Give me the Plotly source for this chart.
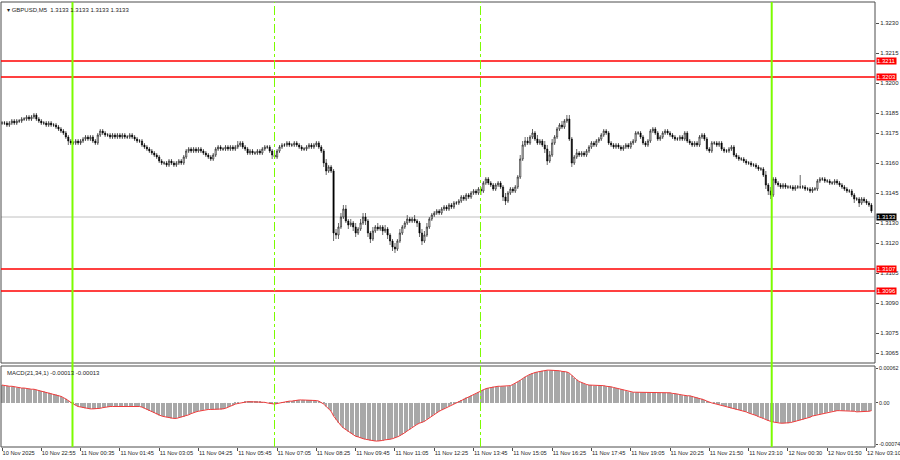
import plotly.graph_objects as go
from plotly.subplots import make_subplots

# --- data -----------------------------------------------------------------
BASE = 1.3
PIP = 0.0001

# M5 closes, in pips above 1.3000
first_open = 180
closes = [
    180, 180, 179, 180, 181, 180, 181, 181, 182, 182,
    183, 182, 183, 184, 182, 181, 180, 180, 179, 180,
    179, 179, 178, 177, 176, 175, 173, 171, 170, 170,
    171, 170, 171, 172, 173, 172, 173, 171, 170, 174,
    176, 175, 174, 174, 173, 174, 173, 174, 173, 174,
    173, 173, 174, 173, 172, 171, 171, 169, 168, 167,
    166, 165, 164, 163, 161, 160, 160, 159, 161, 160,
    159, 160, 161, 160, 163, 166, 167, 166, 167, 166,
    167, 166, 165, 164, 163, 162, 164, 167, 168, 167,
    167, 168, 167, 168, 167, 168, 169, 170, 168, 167,
    165, 166, 165, 165, 166, 165, 167, 168, 168, 166,
    164, 163, 166, 168, 169, 169, 170, 169, 169, 170,
    169, 168, 167, 167, 168, 169, 168, 169, 170, 168,
    166, 160, 156, 158, 156, 125, 124, 128, 133, 137,
    131, 129, 130, 128, 125, 127, 130, 133, 131, 125,
    122, 126, 128, 127, 128, 126, 127, 124, 121, 118,
    117, 121, 125, 128, 130, 132, 131, 132, 131, 130,
    125, 121, 124, 128, 132, 134, 135, 136, 135, 137,
    138, 137, 139, 138, 140, 140, 141, 143, 142, 144,
    143, 145, 146, 145, 147, 146, 150, 152, 150, 149,
    147, 149, 150, 148, 143, 141, 145, 147, 146, 148,
    153, 162, 169, 171, 170, 173, 175, 172, 170, 171,
    169, 167, 161, 164, 170, 173, 177, 179, 178, 181,
    182, 172, 160, 163, 165, 164, 165, 164, 166, 168,
    170, 169, 171, 172, 174, 176, 175, 170, 169, 168,
    169, 168, 167, 168, 169, 168, 170, 171, 175, 175,
    173, 170, 169, 171, 176, 177, 175, 172, 173, 175,
    176, 175, 174, 173, 172, 172, 173, 172, 175, 171,
    170, 169, 170, 169, 173, 174, 172, 167, 166, 170,
    170, 169, 170, 167, 166, 166, 167, 168, 164, 163,
    162, 162, 161, 160, 160, 159, 159, 158, 157, 157,
    154, 149, 146, 144, 152, 150, 149, 148, 149, 148,
    148, 148, 147, 148, 148, 148, 148, 147, 147, 146,
    147, 147, 151, 152, 152, 151, 151, 150, 150, 151,
    150, 149, 148, 147, 146, 146, 144, 142, 142, 140,
    142, 141, 140, 139, 136,
]

# wick length beyond the body, pips
upper_wick = [
    1, 1, 1, 1, 1, 1, 1, 1, 1, 1,
    1, 1, 1, 1, 1, 1, 1, 1, 1, 1,
    1, 1, 1, 1, 1, 1, 1, 1, 1, 1,
    1, 1, 1, 1, 1, 1, 1, 1, 1, 1,
    1, 1, 1, 1, 1, 1, 1, 1, 1, 1,
    1, 1, 1, 1, 1, 1, 1, 1, 1, 1,
    1, 1, 1, 1, 1, 1, 1, 1, 1, 1,
    1, 1, 1, 1, 1, 1, 1, 1, 1, 1,
    1, 1, 1, 1, 1, 1, 1, 1, 1, 1,
    1, 1, 1, 1, 1, 1, 2, 1, 1, 1,
    1, 1, 1, 1, 1, 1, 1, 1, 1, 1,
    1, 1, 1, 1, 1, 1, 1, 1, 1, 1,
    1, 1, 1, 1, 1, 1, 1, 1, 1, 1,
    1, 1, 2, 1, 1, 1, 2, 2, 2, 2,
    2, 1, 2, 1, 2, 1, 2, 2, 2, 1,
    1, 2, 1, 2, 1, 1, 2, 1, 1, 1,
    2, 1, 2, 1, 1, 2, 1, 1, 2, 1,
    1, 2, 2, 2, 1, 1, 1, 1, 1, 1,
    1, 1, 1, 1, 1, 1, 1, 1, 1, 1,
    1, 1, 1, 1, 1, 1, 1, 1, 1, 1,
    1, 1, 1, 1, 1, 2, 1, 1, 1, 1,
    1, 2, 2, 2, 2, 1, 2, 1, 2, 1,
    1, 2, 2, 2, 2, 1, 1, 1, 2, 1,
    2, 2, 1, 1, 2, 1, 1, 1, 1, 1,
    1, 1, 1, 1, 1, 1, 1, 1, 1, 1,
    1, 1, 1, 1, 1, 1, 1, 1, 1, 1,
    1, 1, 1, 1, 1, 1, 1, 1, 1, 1,
    1, 1, 1, 1, 1, 1, 1, 1, 1, 1,
    1, 1, 1, 1, 1, 1, 1, 1, 1, 1,
    1, 1, 1, 1, 1, 1, 1, 1, 1, 1,
    1, 1, 1, 1, 1, 1, 1, 1, 1, 1,
    1, 2, 1, 2, 1, 1, 1, 1, 1, 1,
    1, 1, 1, 1, 1, 6, 1, 1, 1, 1,
    1, 1, 1, 1, 1, 1, 1, 1, 1, 1,
    1, 1, 1, 1, 1, 1, 1, 1, 1, 1,
    1, 1, 1, 1, 1,
]
lower_wick = [
    1, 1, 1, 1, 1, 1, 1, 1, 1, 1,
    1, 1, 1, 1, 1, 1, 1, 1, 1, 1,
    1, 1, 1, 1, 1, 1, 1, 2, 1, 1,
    1, 1, 1, 1, 1, 1, 1, 1, 1, 1,
    1, 1, 1, 1, 1, 1, 1, 1, 1, 1,
    1, 1, 1, 1, 1, 1, 1, 1, 1, 1,
    1, 1, 1, 1, 1, 1, 1, 1, 1, 1,
    1, 1, 1, 1, 1, 1, 1, 1, 1, 1,
    1, 1, 1, 1, 1, 1, 1, 1, 1, 1,
    1, 1, 1, 1, 1, 1, 1, 1, 1, 1,
    1, 1, 1, 1, 1, 1, 1, 1, 1, 1,
    2, 1, 1, 1, 1, 1, 1, 1, 1, 1,
    1, 1, 1, 1, 1, 1, 1, 1, 1, 1,
    1, 2, 2, 1, 1, 4, 2, 2, 1, 1,
    1, 2, 1, 2, 2, 1, 1, 1, 2, 2,
    2, 1, 1, 1, 1, 2, 1, 2, 2, 2,
    2, 1, 1, 1, 1, 1, 1, 1, 1, 2,
    2, 2, 1, 1, 1, 1, 1, 1, 1, 1,
    1, 1, 1, 1, 1, 1, 1, 1, 1, 1,
    1, 1, 1, 1, 1, 2, 1, 1, 1, 1,
    1, 1, 1, 1, 2, 2, 1, 1, 1, 1,
    1, 1, 1, 1, 1, 1, 1, 1, 1, 1,
    1, 2, 2, 1, 1, 1, 1, 1, 1, 1,
    1, 1, 2, 1, 1, 1, 1, 1, 1, 1,
    1, 1, 1, 1, 1, 1, 1, 1, 1, 1,
    1, 1, 1, 1, 1, 1, 1, 1, 1, 1,
    1, 1, 1, 1, 1, 1, 1, 1, 1, 1,
    1, 1, 1, 1, 1, 1, 1, 1, 1, 1,
    1, 1, 1, 1, 1, 1, 1, 1, 1, 1,
    1, 1, 1, 1, 1, 1, 1, 1, 1, 1,
    1, 1, 1, 1, 1, 1, 1, 1, 1, 1,
    1, 2, 2, 2, 1, 1, 1, 1, 1, 1,
    1, 1, 1, 1, 1, 1, 1, 1, 1, 1,
    1, 1, 1, 1, 1, 1, 1, 1, 1, 1,
    1, 1, 1, 1, 1, 1, 1, 2, 1, 2,
    1, 1, 1, 1, 1,
]

# MACD(21,34,1), units of 1e-5
macd = [
    30, 29, 29, 28, 28, 27, 26, 26, 25, 25,
    24, 24, 23, 23, 22, 21, 20, 19, 18, 17,
    16, 15, 14, 13, 11, 9, 7, 4, 1, -2,
    -4, -6, -7, -8, -9, -9, -10, -10, -10, -10,
    -9, -8, -7, -7, -6, -6, -6, -5, -5, -5,
    -5, -5, -5, -5, -5, -6, -6, -7, -9, -11,
    -13, -15, -17, -19, -21, -22, -23, -24, -25, -26,
    -26, -26, -25, -24, -23, -21, -20, -18, -16, -15,
    -14, -13, -12, -11, -11, -11, -11, -11, -11, -11,
    -10, -9, -7, -5, -4, -2, -1, 0, 1, 2,
    2, 2, 2, 2, 2, 2, 1, 1, 0, -1,
    -2, -2, -1, 0, 1, 1, 2, 3, 3, 4,
    5, 5, 5, 5, 5, 5, 5, 4, 4, 3,
    1, -2, -6, -10, -14, -22, -28, -33, -38, -42,
    -45, -48, -51, -53, -56, -57, -59, -60, -61, -62,
    -63, -64, -64, -64, -64, -63, -62, -62, -61, -60,
    -59, -57, -55, -53, -50, -47, -44, -41, -38, -36,
    -34, -33, -31, -28, -25, -22, -19, -17, -14, -12,
    -10, -8, -5, -3, -1, 1, 3, 5, 7, 9,
    10, 12, 14, 16, 18, 20, 22, 24, 25, 26,
    27, 27, 28, 28, 28, 28, 28, 29, 31, 33,
    35, 38, 41, 44, 46, 48, 50, 51, 52, 53,
    54, 54, 55, 55, 55, 55, 54, 54, 53, 53,
    52, 50, 46, 42, 39, 36, 34, 32, 31, 30,
    30, 29, 29, 29, 29, 29, 28, 28, 27, 26,
    25, 24, 23, 22, 20, 19, 18, 18, 18, 18,
    18, 18, 18, 18, 18, 18, 18, 17, 17, 17,
    17, 17, 17, 16, 16, 15, 14, 13, 13, 12,
    12, 11, 10, 9, 8, 7, 5, 3, 1, 0,
    -1, -2, -3, -4, -5, -6, -8, -9, -10, -11,
    -12, -13, -14, -15, -17, -18, -20, -21, -23, -24,
    -26, -28, -30, -31, -32, -33, -33, -34, -34, -34,
    -34, -33, -32, -31, -30, -29, -28, -27, -25, -24,
    -22, -21, -20, -19, -18, -17, -16, -15, -14, -14,
    -13, -13, -13, -13, -13, -13, -14, -14, -15, -15,
    -15, -15, -14, -14, -13,
]

time_labels = ["10 Nov 2025", "10 Nov 22:55", "11 Nov 00:35", "11 Nov 01:45", "11 Nov 03:05",
               "11 Nov 04:25", "11 Nov 05:45", "11 Nov 07:05", "11 Nov 08:25", "11 Nov 09:45",
               "11 Nov 11:05", "11 Nov 12:25", "11 Nov 13:45", "11 Nov 15:05", "11 Nov 16:25",
               "11 Nov 17:45", "11 Nov 19:05", "11 Nov 20:25", "11 Nov 21:50", "11 Nov 23:10",
               "12 Nov 00:30", "12 Nov 01:50", "12 Nov 03:10"]
price_ticks = [1.3230, 1.3215, 1.3200, 1.3185, 1.3175, 1.3160, 1.3145,
               1.3130, 1.3120, 1.3105, 1.3090, 1.3075, 1.3065]
levels = [1.3211, 1.3203, 1.3107, 1.3096]
bid = 1.3133
day_breaks = [28.7, 313.4]      # bar positions of the day separators
session_marks = [110.95, 194.82]

# --- build ------------------------------------------------------------------
FONT = "Liberation Sans"
TXT = "#1e1e1e"
FS = 6
n = len(closes)
bars = list(range(n))
opens = [first_open] + closes[:-1]
o = [BASE + v * PIP for v in opens]
c = [BASE + v * PIP for v in closes]
h = [BASE + (max(a, b) + u) * PIP for a, b, u in zip(opens, closes, upper_wick)]
l = [BASE + (min(a, b) - d) * PIP for a, b, d in zip(opens, closes, lower_wick)]
macd_v = [v * 1e-5 for v in macd]

fig = make_subplots(rows=2, cols=1, shared_xaxes=True)

fig.add_trace(go.Candlestick(
    x=bars, open=o, high=h, low=l, close=c,
    increasing=dict(line=dict(color="#000000", width=0.6), fillcolor="#ffffff"),
    decreasing=dict(line=dict(color="#000000", width=0.6), fillcolor="#000000"),
    whiskerwidth=0, showlegend=False, hoverinfo="skip"), row=1, col=1)

fig.add_trace(go.Bar(x=bars, y=macd_v, width=0.45, marker=dict(color="#a8a8a8", line=dict(width=0)),
                     showlegend=False, hoverinfo="skip"), row=2, col=1)
fig.add_trace(go.Scatter(x=bars, y=macd_v, mode="lines", line=dict(color="#f03c3c", width=1),
                         showlegend=False, hoverinfo="skip"), row=2, col=1)

main_dom = [84 / 445, 1]
macd_dom = [0, 81 / 445]
xr = [-0.407, 355.45]
tickfont = dict(family=FONT, size=FS, color=TXT)

fig.update_layout(
    width=900, height=460,
    margin=dict(l=1, r=25, t=2, b=13, autoexpand=False),
    paper_bgcolor="white", plot_bgcolor="white",
    showlegend=False,
    xaxis=dict(range=xr, rangeslider=dict(visible=False), showgrid=False, zeroline=False,
               showticklabels=False, ticks="", automargin=False),
    xaxis2=dict(range=xr, showgrid=False, zeroline=False, ticks="outside", ticklen=3,
                tickcolor="#4d4d4d", tickvals=[16 * i for i in range(len(time_labels))],
                ticktext=time_labels, tickfont=dict(family=FONT, size=5.7, color=TXT),
                ticklabelposition="outside right",
                ticklabeloverflow="allow", tickangle=0, ticklabelstandoff=0, automargin=False),
    yaxis=dict(domain=main_dom, range=[1.3060, 1.32405], side="right", showgrid=False,
               zeroline=False, ticks="outside", ticklen=3, tickcolor="#4d4d4d", automargin=False,
               tickvals=price_ticks, ticktext=[f"{p:.4f}" for p in price_ticks], tickfont=tickfont),
    yaxis2=dict(domain=macd_dom, range=[-0.00074, 0.00062], side="right", showgrid=False,
                zeroline=False, ticks="outside", ticklen=2, tickcolor="#4d4d4d", automargin=False,
                tickvals=[0.00058, 0, -0.00069], ticktext=["0.00062", "0.00", "-0.00074"],
                ticklabeloverflow="allow", tickfont=dict(family=FONT, size=5.4, color=TXT)),
)

# panel frames
for dom in (main_dom, macd_dom):
    fig.add_shape(type="rect", xref="paper", yref="paper", x0=0, x1=1, y0=dom[0], y1=dom[1],
                  line=dict(color="#4d4d4d", width=1), layer="above")

# current price line
fig.add_shape(type="line", xref="paper", yref="y", x0=0, x1=1, y0=bid, y1=bid,
              line=dict(color="#c0c0c0", width=1), layer="below")

# support / resistance levels
for lv in levels:
    fig.add_shape(type="line", xref="paper", yref="y", x0=0, x1=1, y0=lv, y1=lv,
                  line=dict(color="#ff0000", width=1.3))

# vertical markers through both panels
for b in day_breaks:
    fig.add_shape(type="line", xref="x", yref="paper", x0=b, x1=b, y0=0, y1=1,
                  line=dict(color="#7cfc00", width=2))
for b in session_marks:
    fig.add_shape(type="line", xref="x", yref="paper", x0=b, x1=b, y0=0, y1=1,
                  line=dict(color="#7cfc00", width=1, dash="dashdot"))

# price tags on the right axis
for lv in levels:
    fig.add_annotation(xref="paper", yref="y", x=1, y=lv, text=f"{lv:.4f}", showarrow=False,
                       xanchor="left", xshift=1, bgcolor="#ff0000", borderpad=0,
                       font=dict(family=FONT, size=FS, color="white"))
fig.add_annotation(xref="paper", yref="y", x=1, y=bid, text=f"{bid:.4f}", showarrow=False,
                   xanchor="left", xshift=1, bgcolor="#000000", borderpad=0,
                   font=dict(family=FONT, size=FS, color="white"))

# headers
fig.add_annotation(xref="paper", yref="paper", x=0, y=1, xshift=4, yshift=-3,
                   text="\u25be GBPUSD,M5  1.3133 1.3133 1.3133 1.3133", showarrow=False,
                   xanchor="left", yanchor="top", font=dict(family=FONT, size=FS, color=TXT))
fig.add_annotation(xref="paper", yref="paper", x=0, y=macd_dom[1], xshift=4, yshift=-2,
                   text="MACD(21,34,1) -0.00013 -0.00013", showarrow=False,
                   xanchor="left", yanchor="top", font=dict(family=FONT, size=FS, color=TXT))

# page has a default 8px body margin; drop it so the chart sits flush
fig.write_html("out.html", config={"displayModeBar": False},
               post_script="document.body.style.margin='0';")
